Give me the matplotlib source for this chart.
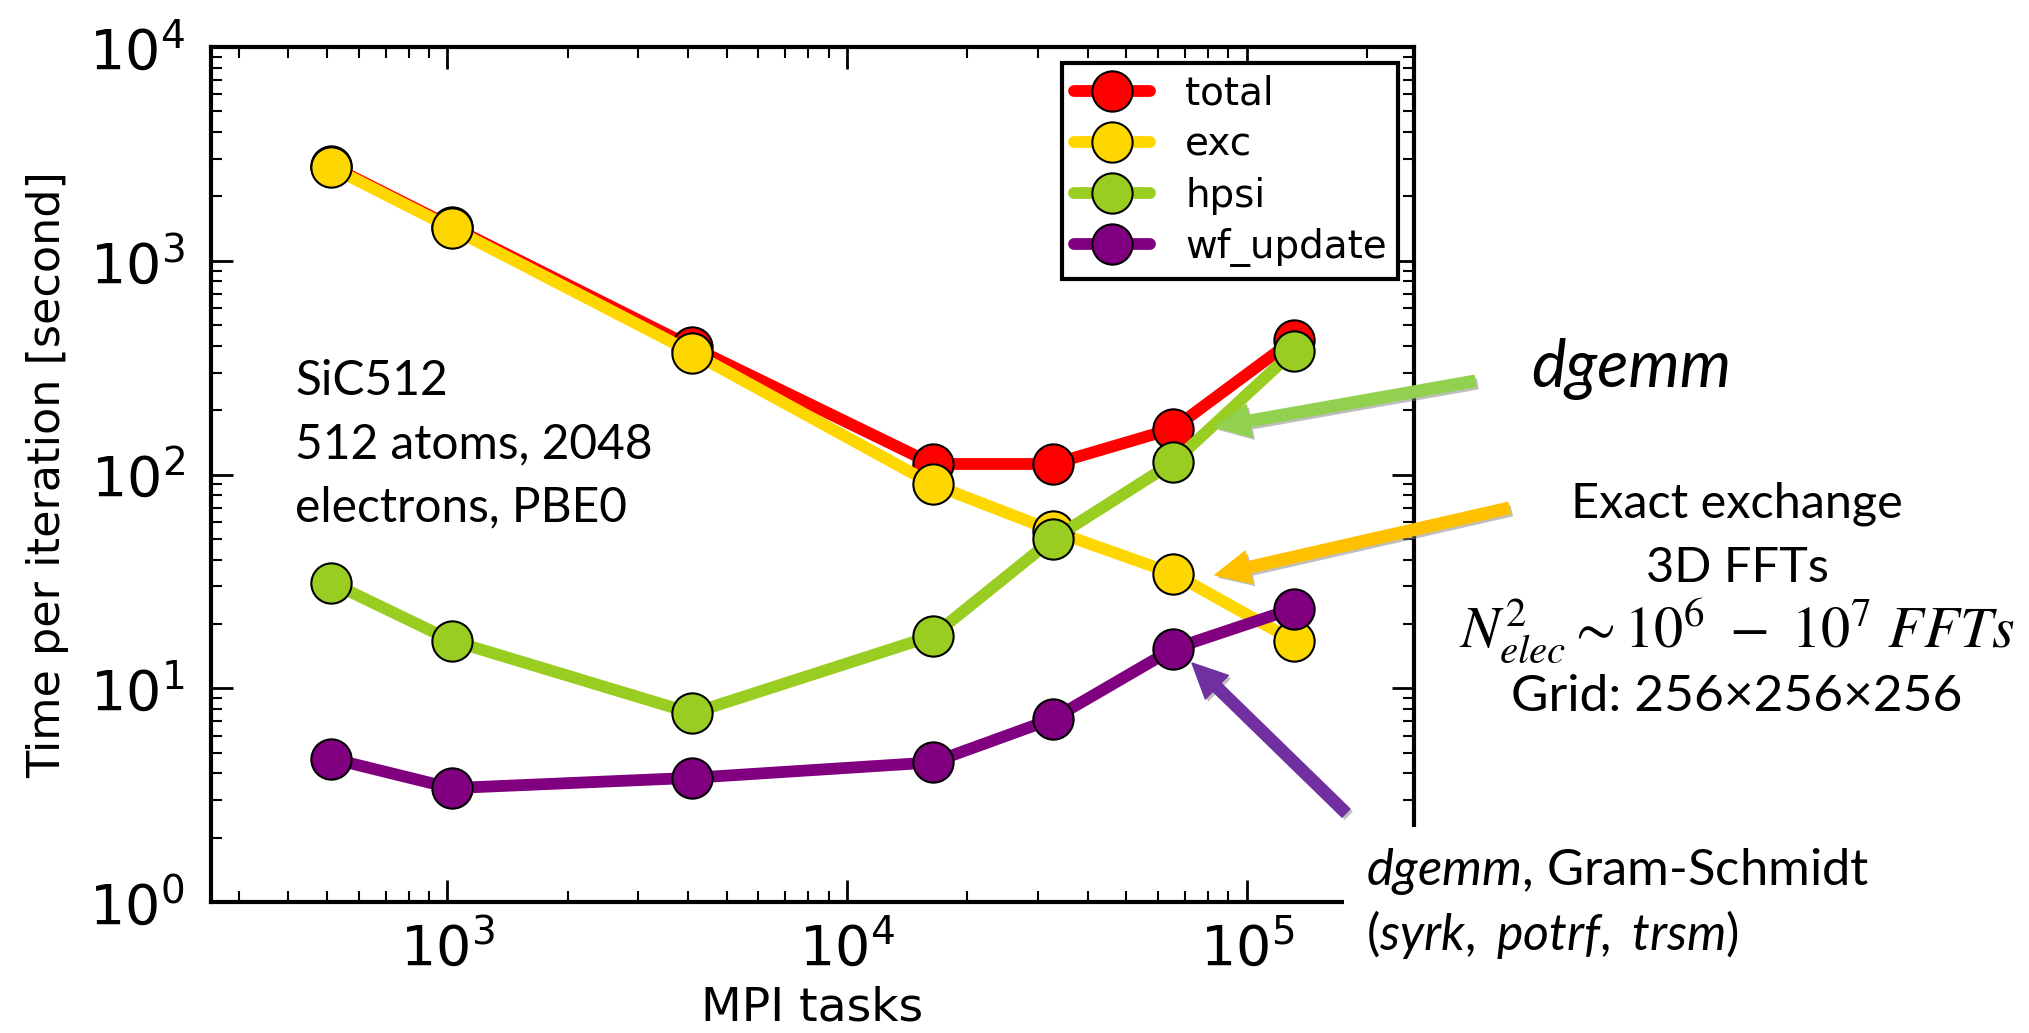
import matplotlib
matplotlib.use('Agg')
import matplotlib.pyplot as plt
from matplotlib.patches import Rectangle, FancyArrowPatch
from matplotlib.ticker import NullFormatter
import matplotlib.patheffects as pe

# ---------------- data ----------------
tasks = [512, 1024, 4096, 16384, 32768, 65536, 131072]
total = [2775, 1445, 395, 112, 112, 164, 428]
exc = [2740, 1420, 372, 90, 54.5, 34.4, 16.7]
hpsi = [31.2, 16.7, 7.64, 17.6, 50, 114, 378]
wf_update = [4.69, 3.41, 3.81, 4.5, 7.2, 15.3, 23.6]
series_names = ['total', 'exc', 'hpsi', 'wf_update']
series_colors = ['#FF0000', '#FFD700', '#9ACD22', '#800080']

plt.rcParams['mathtext.rm'] = 'Lato'
plt.rcParams['mathtext.it'] = 'Lato:italic'

W, H = 2029, 1033
fig = plt.figure(figsize=(W / 100, H / 100), dpi=100)


def fx(px):
    return px / W


def fy(py):
    return 1 - py / H


ax = fig.add_axes([fx(211), fy(902), fx(1414) - fx(211), fy(47) - fy(902)])
ax.set_xscale('log')
ax.set_yscale('log')

for name, vals, col in zip(series_names, [total, exc, hpsi, wf_update], series_colors):
    ax.plot(tasks, vals, '-o', color=col, lw=8.5, ms=29, mec='black', mew=1.5,
            label=name, solid_capstyle='round', solid_joinstyle='round')

ax.set_xlim(256, 262144)
ax.set_ylim(1, 1e4)
ax.xaxis.set_minor_formatter(NullFormatter())
ax.yaxis.set_minor_formatter(NullFormatter())
ax.tick_params(which='both', direction='in', top=True, right=True)
ax.tick_params(which='major', length=16, width=2, labelsize=40)
ax.tick_params(axis='x', which='major', pad=14)
ax.tick_params(axis='y', which='major', pad=19)
ax.tick_params(which='minor', length=8, width=1.5)
for sp in ax.spines.values():
    sp.set_linewidth(3)

ax.set_xlabel('MPI tasks', fontsize=34, labelpad=6)
ax.set_ylabel('Time per iteration [second]', fontsize=32, labelpad=14)

leg = ax.legend(loc='upper right', fontsize=28, frameon=True, fancybox=False,
                edgecolor='black', framealpha=1, borderaxespad=0.4,
                handlelength=1.96, handletextpad=0.9, labelspacing=0.34,
                borderpad=0.3)
leg.get_frame().set_linewidth(3)

# white box covering lower-right corner (as in the slide)
fig.add_artist(Rectangle((fx(1344), 0), 1 - fx(1344), fy(827),
                         transform=fig.transFigure, facecolor='white',
                         edgecolor='none', zorder=3))

# ---------------- annotations ----------------
tf = dict(family='Lato', color='black', zorder=5)
fig.text(fx(295), fy(395), 'SiC512', size=34.5, va='baseline', **tf)
fig.text(fx(295), fy(458), '512 atoms, 2048', size=34.5, va='baseline', **tf)
fig.text(fx(295), fy(521), 'electrons, PBE0', size=34.5, va='baseline', **tf)

fig.text(fx(1531), fy(387), 'dgemm', size=47, style='italic', va='baseline', **tf)

fig.text(fx(1737), fy(517), 'Exact exchange', size=35, ha='center', va='baseline', **tf)
fig.text(fx(1737), fy(582), '3D FFTs', size=35, ha='center', va='baseline', **tf)
fig.text(fx(1737), fy(647), r'$N_{elec}^{2} \sim 10^{6}\ -\ 10^{7}\ FFTs$', size=42,
         ha='center', va='baseline', math_fontfamily='stix', color='black', zorder=5)
fig.text(fx(1737), fy(711), 'Grid: 256×256×256', size=37, ha='center', va='baseline', **tf)

fig.text(fx(1366), fy(885), r'$\mathit{dgemm}$, Gram-Schmidt', size=36.5, va='baseline',
         math_fontfamily='custom', **tf)
fig.text(fx(1366), fy(950), r'($\mathit{syrk,}$ $\mathit{potrf,}$ $\mathit{trsm}$)', size=36,
         va='baseline', math_fontfamily='custom', **tf)

arrows = [((1475, 381), (1215, 427), '#92D050'),
          ((1509, 508), (1215, 575), '#FFC000'),
          ((1346, 813), (1192, 663), '#7030A0')]
for (xa, ya), (xb, yb), col in arrows:
    arr = FancyArrowPatch((fx(xa), fy(ya)), (fx(xb), fy(yb)), transform=fig.transFigure,
                          arrowstyle='simple,head_length=1.0,head_width=0.95,tail_width=0.33',
                          mutation_scale=25, color=col, shrinkA=0, shrinkB=0, zorder=6,
                          path_effects=[pe.withSimplePatchShadow(offset=(2, -2),
                                                                 shadow_rgbFace='gray',
                                                                 alpha=0.5)])
    fig.add_artist(arr)

fig.savefig('out.png', dpi=100)
